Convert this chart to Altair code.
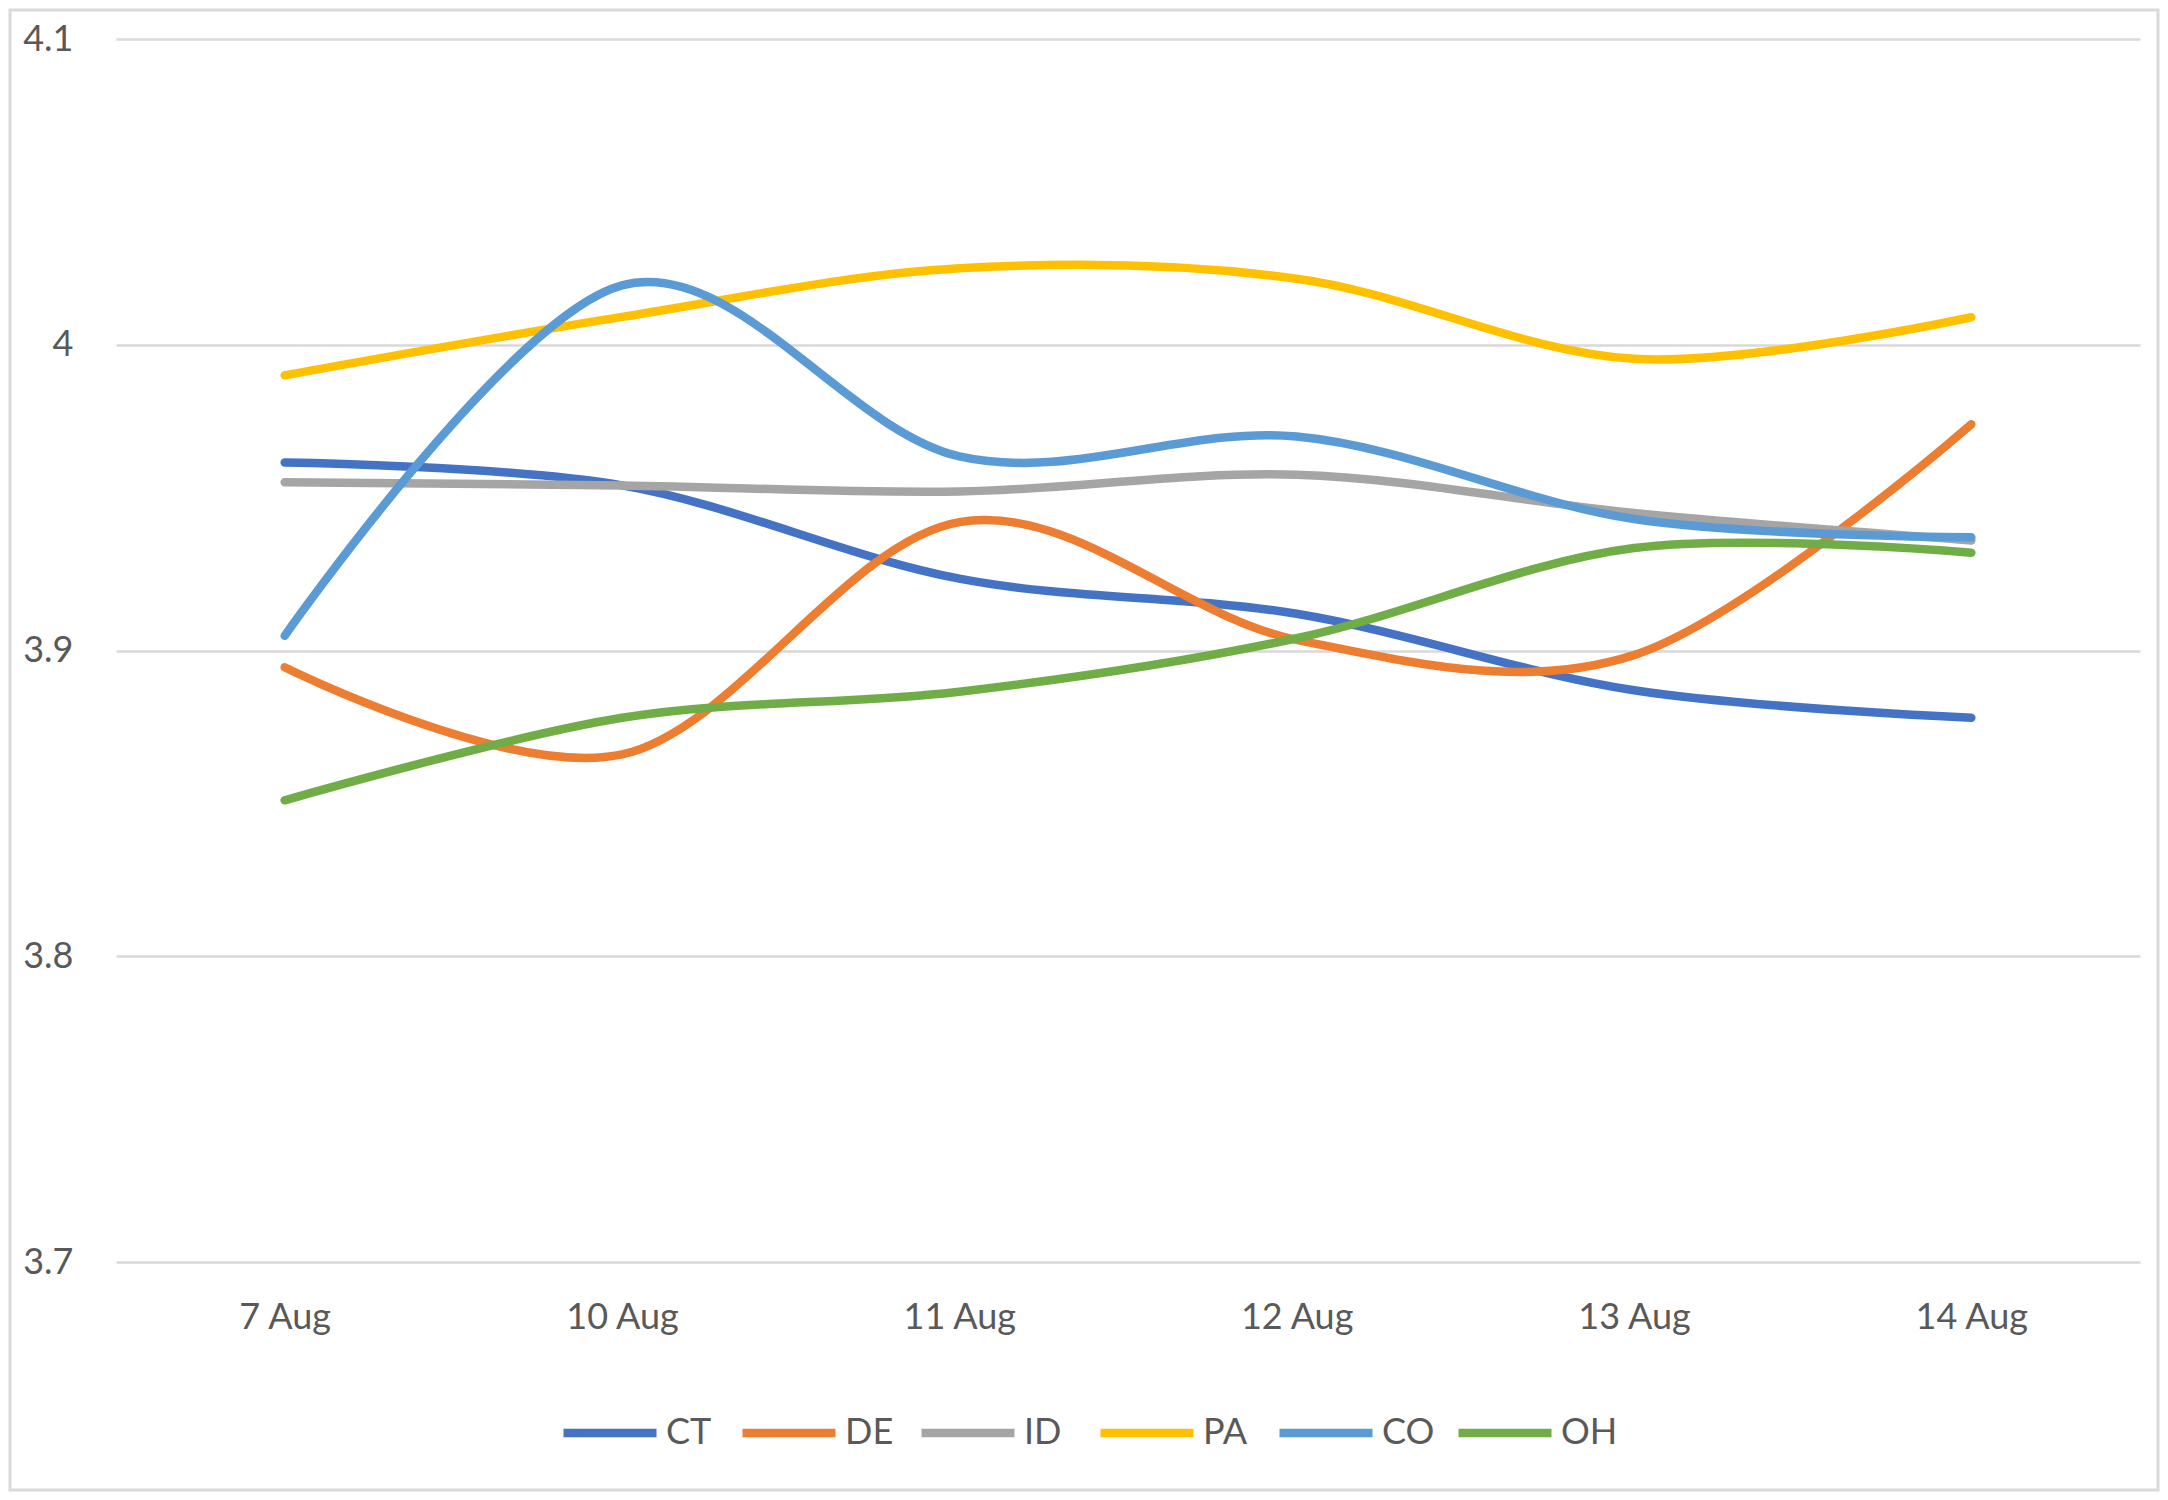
import altair as alt
import pandas as pd

dates = ["7 Aug", "10 Aug", "11 Aug", "12 Aug", "13 Aug", "14 Aug"]
series_names = ["CT", "DE", "ID", "PA", "CO", "OH"]
colors = ["#4472C4", "#ED7D31", "#A5A5A5", "#FFC000", "#5B9BD5", "#70AD47"]

CT = [3.9615, 3.954, 3.9235, 3.912, 3.887, 3.878]
DE = [3.8945, 3.866, 3.942, 3.9035, 3.8985, 3.974]
ID = [3.955, 3.954, 3.952, 3.9575, 3.945, 3.936]
PA = [3.990, 4.0091, 4.025, 4.0216, 3.9954, 4.009]
CO = [3.9048, 4.0194, 3.9635, 3.970, 3.943, 3.937]
OH = [3.851, 3.878, 3.8865, 3.904, 3.9335, 3.932]

values = {"CT": CT, "DE": DE, "ID": ID, "PA": PA, "CO": CO, "OH": OH}
rows = []
for s in series_names:
    for d, v in zip(dates, values[s]):
        rows.append({"date": d, "series": s, "value": v})
df = pd.DataFrame(rows)

FONT = "Lato"
TXT = "#595959"

lines = alt.Chart(df).mark_line(
    interpolate="cardinal", strokeWidth=8.5, strokeCap="round", strokeJoin="round"
).encode(
    x=alt.X("date:N", sort=dates, title=None,
            scale=alt.Scale(type="point", padding=0.5),
            axis=alt.Axis(labelAngle=0, labelFontSize=36, labelColor=TXT, labelFont=FONT,
                          domain=False, ticks=False, tickSize=0, labelPadding=38, grid=False)),
    y=alt.Y("value:Q", title=None,
            scale=alt.Scale(domain=[3.7, 4.1], nice=False, zero=False),
            axis=alt.Axis(values=[3.7, 3.8, 3.9, 4.0, 4.1], format="~g",
                          labelFontSize=36, labelColor=TXT, labelFont=FONT,
                          domain=False, ticks=False, tickSize=0, labelPadding=43,
                          grid=True, gridColor="#d9d9d9", gridWidth=2.5)),
    color=alt.Color("series:N", sort=series_names,
                    scale=alt.Scale(domain=series_names, range=colors),
                    legend=alt.Legend(title=None, orient="none", direction="horizontal",
                                      legendX=443, legendY=1343,
                                      symbolType="stroke", symbolSize=8649,
                                      symbolStrokeWidth=8.5, labelFontSize=36,
                                      labelFont=FONT, labelColor=TXT, labelOffset=5,
                                      columnPadding=2, gridAlign="all")),
    order=alt.Order("series:N"),
)

border = alt.Chart(pd.DataFrame({"a": [0]})).mark_rect(
    fill=None, stroke="#d9d9d9", strokeWidth=3
).encode(
    x=alt.value(-106), x2=alt.value(2042), y=alt.value(-29), y2=alt.value(1451)
)

chart = alt.layer(border, lines).properties(
    width=2024, height=1223,
    autosize=alt.AutoSizeParams(type="none"),
    padding={"left": 108, "top": 31, "right": 20, "bottom": 230},
    background="white",
).configure_view(stroke=None)

chart.save("out.html", embed_options={"renderer": "svg", "actions": False})
